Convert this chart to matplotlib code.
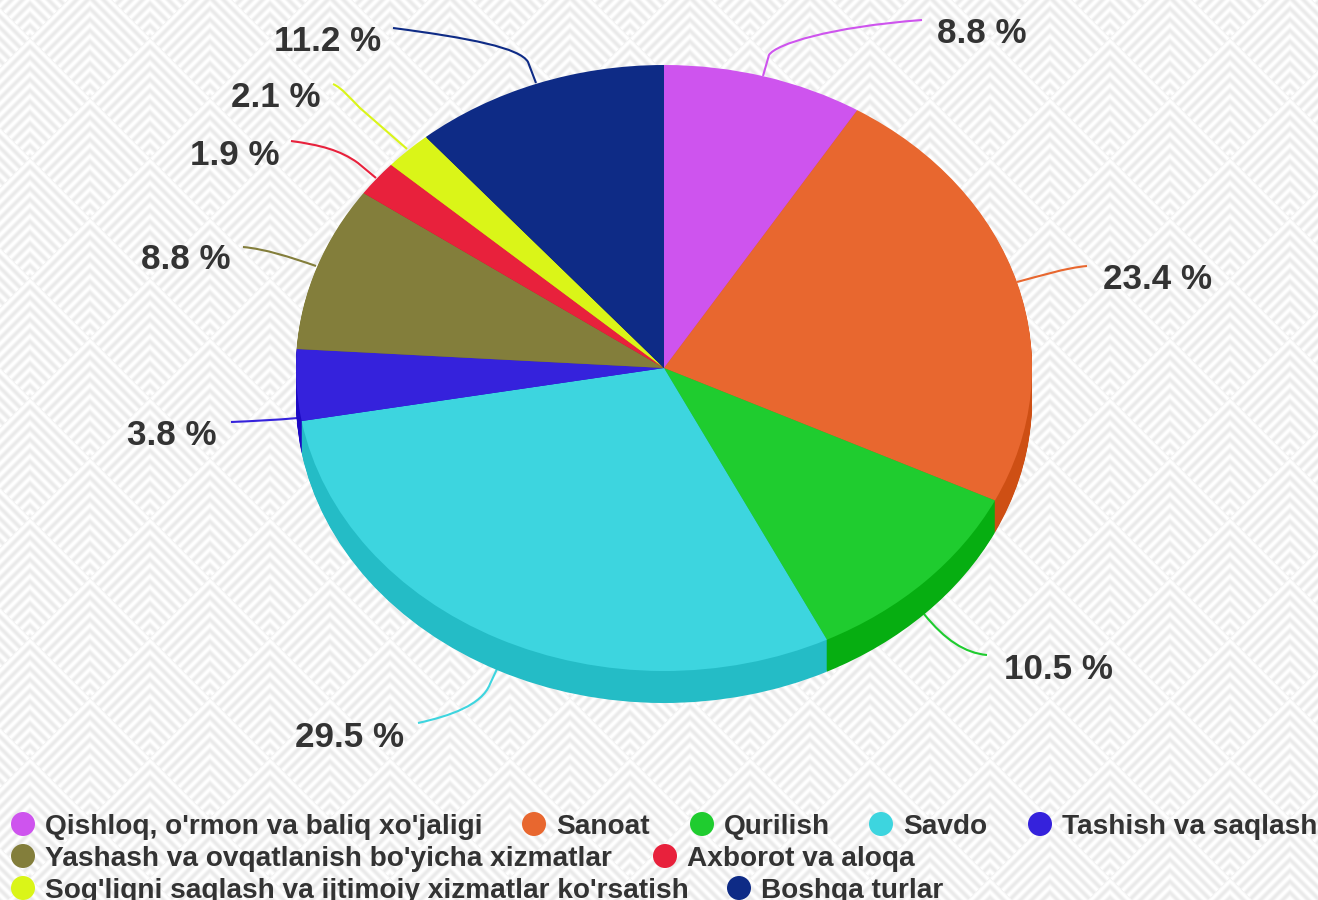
import matplotlib
matplotlib.use('Agg')
import matplotlib.pyplot as plt
from matplotlib.path import Path
from matplotlib.patches import PathPatch, Circle
import numpy as np

plt.rcParams['font.family'] = ['Liberation Sans', 'DejaVu Sans']

categories = ["Qishloq, o'rmon va baliq xo'jaligi", "Sanoat", "Qurilish", "Savdo", "Tashish va saqlash",
              "Yashash va ovqatlanish bo'yicha xizmatlar", "Axborot va aloqa",
              "Sog'liqni saqlash va ijtimoiy xizmatlar ko'rsatish", "Boshqa turlar"]
values = [8.8, 23.4, 10.5, 29.5, 3.8, 8.8, 1.9, 2.1, 11.2]
colors = ['#CE54EE', '#E8672F', '#1FCC2F', '#3DD5DF', '#3522DC', '#837E3B', '#E8213C', '#DAF518', '#0E2B86']
side_colors = ['#B53BD5', '#CE4F14', '#06AE11', '#24BCC6', '#1C09C3', '#6A6522', '#CF0823', '#C1DC00', '#00126D']
label_text = ['8.8 %', '23.4 %', '10.5 %', '29.5 %', '3.8 %', '8.8 %', '1.9 %', '2.1 %', '11.2 %']

W, H = 1318, 900
cx, cy, rx, ry, depth = 664, 368, 368, 303, 32

# left edge and baseline of the slice labels, in pixels
label_x = [937, 1103, 1004, 295, 127, 141, 190, 231, 274]
label_y = [43, 289, 679, 747, 445, 269, 165, 107, 51]

# leader lines: start on the pie, straight piece, then one bezier to the label
leaders = [
    [(763, 76), (769, 55), (776, 44), (830, 27), (922, 20)],
    [(1017, 282), (1017, 282), (1040, 276), (1065, 268), (1087, 266)],
    [(924, 614), (924, 614), (945, 640), (965, 653), (987, 655)],
    [(497, 669), (490, 684), (482, 705), (450, 716), (418, 723)],
    [(298, 418), (298, 418), (275, 420), (255, 421), (231, 422)],
    [(316, 266), (316, 266), (290, 257), (265, 249), (243, 247)],
    [(376, 178), (358, 163), (340, 150), (320, 145), (291, 141)],
    [(407, 149), (360, 108), (350, 98), (342, 88), (333, 84)],
    [(536, 83), (528, 62), (520, 48), (470, 38), (393, 28)],
]

# legend rows: marker centre x, text left x, text baseline, marker centre y
legend_x = [23, 534, 702, 881, 1040, 23, 665, 23, 739]
legend_y = [824, 824, 824, 824, 824, 856, 856, 888, 888]


def background():
    x, y = np.meshgrid(np.arange(W) + 0.5, np.arange(H) + 0.5)
    a = (x - 30 + y - 38) / 120
    b = (y - 38 - (x - 30)) / 120
    v = 120 * np.minimum(a - np.floor(a), b - np.floor(b))
    shade = 0.5 * (1 - np.cos(2 * np.pi * (v - 3) / 11))
    return 1 - 0.085 * shade


fig = plt.figure(figsize=(W / 100, H / 100), dpi=100)
ax = fig.add_axes([0, 0, 1, 1])
ax.imshow(background(), cmap='gray', vmin=0, vmax=1, extent=(0, W, H, 0), interpolation='nearest', aspect='auto')
ax.set_xlim(0, W)
ax.set_ylim(H, 0)
ax.axis('off')

codes = [Path.MOVETO, Path.LINETO, Path.CURVE4, Path.CURVE4, Path.CURVE4]
for pts, c in zip(leaders, colors):
    ax.add_patch(PathPatch(Path(pts, codes), fc='none', ec=c, lw=1.5))

for x, y, t in zip(label_x, label_y, label_text):
    ax.text(x, y, t, fontsize=25.2, fontweight='bold', color='#333333', va='baseline', ha='left')

for mx, my, name, c in zip(legend_x, legend_y, categories, colors):
    ax.add_patch(Circle((mx, my), 12, fc=c, ec='none'))
    ax.text(mx + 22, my + 10, name, fontsize=20.2, fontweight='bold', color='#333333', va='baseline', ha='left')

# pie in its own axes, so one data unit is rx wide and ry high
pie_ax = fig.add_axes([0, 0, 1, 1])
for d in range(depth, 0, -1):
    pie_ax.pie(values, colors=side_colors, startangle=90, counterclock=False, radius=1,
               center=(0, -d / ry), wedgeprops={'linewidth': 0})
pie_ax.pie(values, colors=colors, startangle=90, counterclock=False, radius=1,
           center=(0, 0), wedgeprops={'linewidth': 0})
pie_ax.set_aspect('auto')
pie_ax.set_xlim(-cx / rx, (W - cx) / rx)
pie_ax.set_ylim(-(H - cy) / ry, cy / ry)
pie_ax.axis('off')

fig.savefig('out.png', dpi=100)
